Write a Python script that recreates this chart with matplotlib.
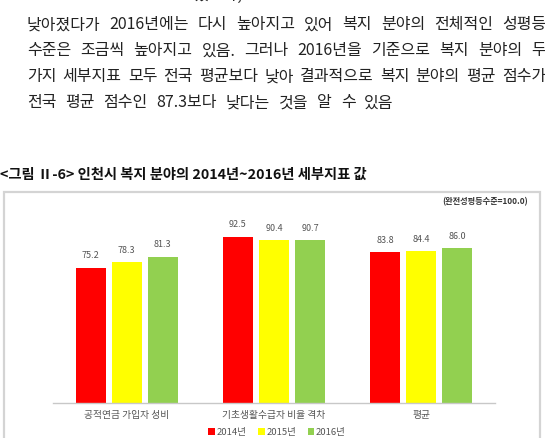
import matplotlib
matplotlib.use("Agg")
import matplotlib.pyplot as plt
from matplotlib.patches import Rectangle, Patch
import numpy as np

plt.rcParams['font.family'] = ['Noto Sans CJK KR', 'DejaVu Sans']

# ---- data ----
categories = ['공적연금 가입자 성비', '기초생활수급자 비율 격차', '평균']
years = ['2014년', '2015년', '2016년']
values_2014 = [75.2, 92.5, 83.8]
values_2015 = [78.3, 90.4, 84.4]
values_2016 = [81.3, 90.7, 86.0]
colors = ['#FF0000', '#FFFF00', '#92D050']

body_lines = [
    '장하는 수준이 상승하고 있으나, 기초생활수급자 비율 격차는 2015년에 다소',
    '낮아졌다가 2016년에는 다시 높아지고 있어 복지 분야의 전체적인 성평등',
    '수준은 조금씩 높아지고 있음. 그러나 2016년을 기준으로 복지 분야의 두',
    '가지 세부지표 모두 전국 평균보다 낮아 결과적으로 복지 분야의 평균 점수가',
    '전국 평균 점수인 87.3보다 낮다는 것을 알 수 있음',
]
caption = '<그림 Ⅱ-6> 인천시 복지 분야의 2014년~2016년 세부지표 값'
note = '(완전성평등수준=100.0)'

W, H = 545, 438
fig = plt.figure(figsize=(W / 100, H / 100), dpi=100)
fig.patch.set_facecolor('white')


def fx(px):
    return px / W


def fy(py):
    # pixel y measured from top
    return 1 - py / H


renderer = fig.canvas.get_renderer()


def justified(line, y, left=27, right=546, size=11.5, justify=True):
    words = line.split(' ')
    texts = [fig.text(0, fy(y), w, fontsize=size, va='center', ha='left',
                      color='#222222') for w in words]
    widths = [t.get_window_extent(renderer).width for t in texts]
    if justify and len(words) > 1:
        gap = (right - left - sum(widths)) / (len(words) - 1)
    else:
        gap = size * 100 / 72 * 0.55
    x = left
    for t, w in zip(texts, widths):
        t.set_x(fx(x))
        x += w + gap


line_y = [-5, 25, 51, 77, 103]
for i, (line, y) in enumerate(zip(body_lines, line_y)):
    justified(line, y, justify=(i < len(body_lines) - 1))

fig.text(fx(0), fy(175), caption, fontsize=10.3, fontweight='bold',
         va='center', ha='left', color='#111111')

# chart frame (behind the axes)
fig.patches.append(Rectangle((fx(4), fy(445)), fx(536), fy(192) - fy(445),
                             transform=fig.transFigure, facecolor='white',
                             edgecolor='#d4d4d4', linewidth=1.6, zorder=-1))

fig.text(fx(528), fy(202), note, fontsize=5.9, fontweight='bold',
         va='center', ha='right', color='#333333')

# axes: y=0 at pixel 403, 1.8 px per unit
base_px, scale = 403, 1.8
top_val = 100
ax = fig.add_axes([fx(53), fy(base_px), fx(495) - fx(53), top_val * scale / H])
ax.set_xlim(0, 3)
ax.set_ylim(0, top_val)

x = np.arange(len(categories)) + 0.5
bw = 30 / 147
step = 36 / 147
series = [values_2014, values_2015, values_2016]
for i, (vals, c) in enumerate(zip(series, colors)):
    pos = x + (i - 1) * step
    bars = ax.bar(pos, vals, width=bw, color=c, zorder=2)
    for b, v in zip(bars, vals):
        ax.text(b.get_x() + b.get_width() / 2, v + 4, f'{v:.1f}',
                ha='center', va='bottom', fontsize=6.5, color='#555555')

for s in ['top', 'right', 'left']:
    ax.spines[s].set_visible(False)
ax.spines['bottom'].set_color('#c8c8c8')
ax.spines['bottom'].set_linewidth(1.0)
ax.set_yticks([])
ax.set_xticks(x)
ax.set_xticklabels(categories, fontsize=7, color='#555555')
ax.tick_params(axis='x', length=0, pad=5)
ax.patch.set_alpha(0)

handles = [Patch(facecolor=c, edgecolor='none') for c in colors]
fig.legend(handles, years, loc='center', bbox_to_anchor=(fx(277), fy(432)),
           ncol=3, frameon=False, fontsize=6.8, handlelength=0.7,
           handleheight=0.7, handletextpad=0.2, columnspacing=1.2,
           labelcolor='#555555')

fig.savefig('out.png', dpi=100, facecolor='white')
